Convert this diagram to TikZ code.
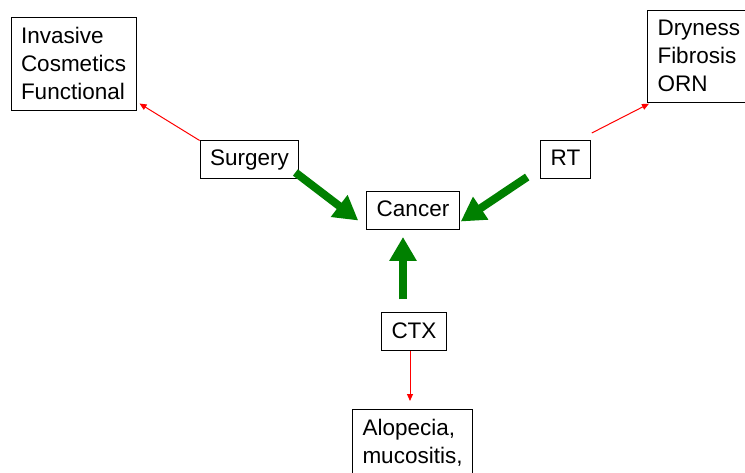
\documentclass[tikz,border=0pt]{standalone}
\usepackage{fontspec}
\setmainfont{Liberation Sans}
\usetikzlibrary{arrows.meta}
\definecolor{pptgreen}{RGB}{0,128,0}
\definecolor{pptred}{RGB}{255,0,0}
\tikzset{
  box/.style={draw, line width=1pt, inner xsep=10pt, inner ysep=8pt,
    font=\fontsize{22.5}{28}\selectfont, text height=17pt, text depth=5pt},
  listbox/.style={draw, line width=1pt, inner xsep=10pt, inner ysep=10pt,
    font=\fontsize{22.5}{28}\selectfont, align=left, anchor=north west},
  effect/.style={pptred, line width=1pt, -{Triangle[length=7pt,width=6pt]}},
  treat/.style={pptgreen, line width=8pt, -{Triangle[length=24pt,width=26pt]}}
}
\begin{document}
\begin{tikzpicture}[x=1pt, y=-1pt]
  \useasboundingbox (0,0) rectangle (745,473);
  \clip (0,0) rectangle (745,473);

  % Define nodes
  \node[box] (cancer) at (413,210.5) {Cancer};
  \node[box] (surgery) at (249.5,160) {Surgery};
  \node[box] (rt) at (565.5,159.5) {RT};
  \node[box] (ctx) at (414,332) {CTX};
  \node[listbox] (surgfx) at (10.5,17) {Invasive\\Cosmetics\\Functional};
  \node[listbox] (rtfx) at (647,10) {Dryness\\Fibrosis\\ORN\hspace{20pt}};
  \node[listbox] (ctxfx) at (352,409) {Alopecia,\\mucositis,\\\strut};

  % Draw edges
  \draw[treat] ([xshift=-4pt,yshift=7pt]surgery.south east) -- ([xshift=-8pt,yshift=-10pt]cancer.west);
  \draw[treat] ([xshift=-13pt,yshift=2pt]rt.south west) -- ([xshift=1pt,yshift=-11pt]cancer.east);
  \draw[treat] ([xshift=-11pt,yshift=13pt]ctx.north) -- ([xshift=-10pt,yshift=-7pt]cancer.south);
  \draw[effect] (surgery.north west) -- ([xshift=3pt,yshift=7pt]surgfx.south east);
  \draw[effect] ([xshift=1pt,yshift=7pt]rt.north east) -- ([xshift=2pt,yshift=-1pt]rtfx.south west);
  \draw[effect] ([xshift=-4pt]ctx.south) -- ([xshift=-4pt,yshift=8pt]ctx.south |- ctxfx.north);
\end{tikzpicture}
\end{document}
